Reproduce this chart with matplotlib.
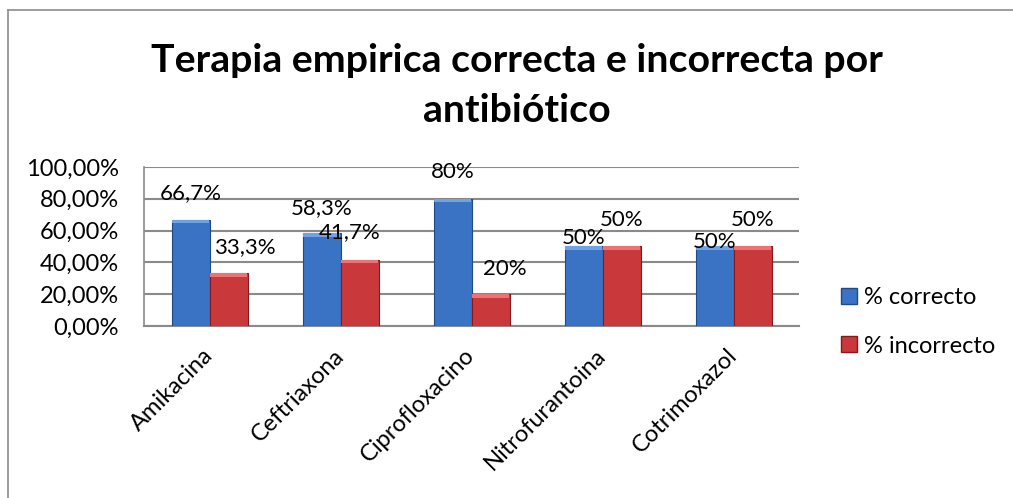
import numpy as np
import matplotlib.pyplot as plt
from matplotlib.lines import Line2D
from matplotlib.patches import Patch

plt.rcParams['font.family'] = ['Lato', 'DejaVu Sans']

antibioticos = ["Amikacina", "Ceftriaxona", "Ciprofloxacino", "Nitrofurantoina", "Cotrimoxazol"]
correcto = [66.7, 58.3, 80, 50, 50]
incorrecto = [33.3, 41.7, 20, 50, 50]
etiquetas_correcto = ["66,7%", "58,3%", "80%", "50%", "50%"]
etiquetas_incorrecto = ["33,3%", "41,7%", "20%", "50%", "50%"]
yticks = [0, 20, 40, 60, 80, 100]
ytick_labels = ["0,00%", "20,00%", "40,00%", "60,00%", "80,00%", "100,00%"]

azul, azul_borde = "#3A72C4", "#1E4A86"
rojo, rojo_borde = "#C9393B", "#85191B"

fig = plt.figure(figsize=(10.13, 4.98), dpi=100)
ax = fig.add_axes([0.1422, 0.3454, 0.6466, 0.3193])

x = np.arange(len(antibioticos))
w = 0.29
ax.bar(x - w / 2, correcto, w, color=azul, edgecolor=azul_borde, linewidth=0.8, zorder=3)
ax.bar(x + w / 2, incorrecto, w, color=rojo, edgecolor=rojo_borde, linewidth=0.8, zorder=3)

# lighter top edge, a rough stand-in for Excel's bevel
ax.bar(x - w / 2, [2.2] * len(x), w * 0.96, bottom=np.array(correcto) - 2.2, color="#6FA3E8", linewidth=0, zorder=4)
ax.bar(x + w / 2, [2.2] * len(x), w * 0.96, bottom=np.array(incorrecto) - 2.2, color="#EE7173", linewidth=0, zorder=4)

# label offsets in points (dx, dy) as placed in the original
off_c = [(0, 19), (0, 18), (0, 19), (0, 6), (0, 3)]
off_i = [(12, 19), (-7, 20), (10, 18), (0, 19), (0, 19)]
for i in range(len(x)):
    ax.annotate(etiquetas_correcto[i], (x[i] - w / 2, correcto[i]), xytext=off_c[i],
                textcoords="offset points", ha="center", va="center", fontsize=16, zorder=5)
    ax.annotate(etiquetas_incorrecto[i], (x[i] + w / 2, incorrecto[i]), xytext=off_i[i],
                textcoords="offset points", ha="center", va="center", fontsize=16, zorder=5)

ax.set_xlim(-0.5, len(x) - 0.5)
ax.set_ylim(0, 100)
ax.set_yticks(yticks)
ax.set_yticklabels(ytick_labels, fontsize=17)
ax.set_xticks(x)
ax.set_xticklabels(antibioticos, rotation=45, ha="right", va="center", rotation_mode="anchor", fontsize=17)
ax.tick_params(axis="both", length=0)
ax.tick_params(axis="y", pad=18)
ax.tick_params(axis="x", pad=19)
ax.yaxis.grid(True, color="#8A8A8A", linewidth=1.5, zorder=0)
for s in ["top", "right"]:
    ax.spines[s].set_visible(False)
ax.spines["left"].set_color("#8A8A8A")
ax.spines["bottom"].set_color("#8A8A8A")
ax.spines["left"].set_linewidth(1.2)
ax.spines["bottom"].set_linewidth(1.5)

fig.text(517 / 1013, 1 - 72 / 498, "Terapia empirica correcta e incorrecta por",
         ha="center", va="baseline", fontsize=28.3, fontweight="bold")
fig.text(517 / 1013, 1 - 122 / 498, "antibiótico",
         ha="center", va="baseline", fontsize=28.3, fontweight="bold")

handles = [Patch(facecolor=azul, edgecolor=azul_borde), Patch(facecolor=rojo, edgecolor=rojo_borde)]
fig.legend(handles, ["% correcto", "% incorrecto"], loc="center left",
           bbox_to_anchor=(820 / 1013, 1 - 322 / 498), frameon=False, fontsize=17,
           handlelength=0.65, handleheight=0.65, handletextpad=0.3, labelspacing=1.15)

# chart border (left and top edges visible in the original)
fig.add_artist(Line2D([8 / 1013, 8 / 1013], [0, 1 - 10 / 498], color="#8C8C8C", linewidth=1.2))
fig.add_artist(Line2D([8 / 1013, 1], [1 - 10 / 498, 1 - 10 / 498], color="#8C8C8C", linewidth=1.2))

fig.savefig("out.png", dpi=100)
